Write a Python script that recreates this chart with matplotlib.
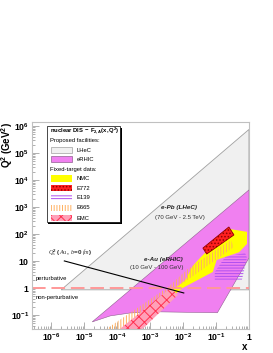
import numpy as np
import matplotlib
matplotlib.use('Agg')
import matplotlib.pyplot as plt
from matplotlib.patches import Polygon, Rectangle

plt.rcParams['font.family'] = 'Liberation Sans'
plt.rcParams['mathtext.fontset'] = 'custom'
plt.rcParams['mathtext.rm'] = 'Liberation Sans:bold'
plt.rcParams['mathtext.bf'] = 'Liberation Sans:bold'
plt.rcParams['mathtext.it'] = 'Liberation Serif:italic'
plt.rcParams['hatch.linewidth'] = 0.7

# regions in (x, Q^2)
lhec_x = [2e-6, 1.0, 1.0]
lhec_q2 = [0.85, 7.5e5, 0.85]

erhic_x = [1.75e-5, 1.0, 1.0, 0.11, 1.7e-3, 2.5e-4, 6.2e-5]
erhic_q2 = [0.055, 4300, 13, 0.12, 0.13, 0.118, 0.092]

nmc_x = [3.4e-3, 0.012, 0.0195, 0.035, 0.245, 0.87, 0.87, 0.5, 0.105, 0.08, 0.0098, 4.5e-3]
nmc_q2 = [0.6, 2.0, 6.5, 14, 155, 120, 43, 21, 11, 3.9, 1.0, 0.45]

e772_x = [0.040, 0.052, 0.35, 0.245]
e772_q2 = [30, 18, 92, 182]

e139_x = [0.092, 0.092, 0.19, 0.76, 0.87, 0.61]
e139_q2 = [2.0, 3.9, 14, 20, 13, 2.0]

e665_x = [4.7e-5, 3.6e-3, 0.0138, 0.28, 0.35, 8.5e-3, 1.6e-4]
e665_q2 = [0.03, 1.1, 5, 60, 33, 1.3, 0.03]

emc_x = [1.0e-4, 4.2e-3, 7.0e-3, 5.0e-4]
emc_q2 = [0.025, 1.0, 0.55, 0.025]

qs_x = [2.5e-6, 0.0105]
qs_q2 = [10, 0.65]

xticks = [1e-6, 1e-5, 1e-4, 1e-3, 1e-2, 1e-1, 1]
xlabels = ['$\\mathrm{10^{-6}}$', '$\\mathrm{10^{-5}}$', '$\\mathrm{10^{-4}}$', '$\\mathrm{10^{-3}}$',
           '$\\mathrm{10^{-2}}$', '$\\mathrm{10^{-1}}$', '$\\mathrm{1}$']
yticks = [1e-1, 1, 10, 1e2, 1e3, 1e4, 1e5, 1e6]
ylabels = ['$\\mathrm{10^{-1}}$', '$\\mathrm{1}$', '$\\mathrm{10}$', '$\\mathrm{10^{2}}$',
           '$\\mathrm{10^{3}}$', '$\\mathrm{10^{4}}$', '$\\mathrm{10^{5}}$', '$\\mathrm{10^{6}}$']

fig = plt.figure(figsize=(2.73, 3.53), dpi=100)
ax = fig.add_axes([0.117, 0.068, 0.795, 0.586])
ax.set_xscale('log')
ax.set_yscale('log')
ax.set_xlim(2.6e-7, 1)
ax.set_ylim(0.03, 1.4e6)

def region(xs, ys, **kw):
    ax.add_patch(Polygon(np.column_stack([xs, ys]), closed=True, **kw))

region(lhec_x, lhec_q2, facecolor='#f0f0f0', edgecolor='#a0a0a0', lw=0.6, zorder=1)
region(erhic_x, erhic_q2, facecolor='#f080f0', edgecolor='#906090', lw=0.4, zorder=2)
region(nmc_x, nmc_q2, facecolor='#ffff00', edgecolor='none', zorder=3)
region(e665_x, e665_q2, facecolor='none', edgecolor='#ffb060', hatch='||||||', lw=0, zorder=4)
region(emc_x, emc_q2, facecolor='#ffa0b8', edgecolor='#ff3050', hatch='xxx', lw=0, zorder=4)
region(e139_x, e139_q2, facecolor='none', edgecolor='#b050f0', hatch='------', lw=0, zorder=4)
region(e772_x, e772_q2, facecolor='#ff2020', edgecolor='#900000', hatch='.....', lw=0, zorder=5)
region(e772_x, e772_q2, facecolor='none', edgecolor='#900000', lw=0.6, zorder=5)

ax.axhline(1, color='#ff9898', lw=1.4, dashes=(7, 3), zorder=6)
ax.plot(qs_x, qs_q2, color='black', lw=0.8, zorder=7)

ax.set_xticks(xticks)
ax.set_xticklabels(xlabels)
ax.set_yticks(yticks)
ax.set_yticklabels(ylabels)
ax.tick_params(which='both', direction='in', colors='#909090', labelcolor='black',
               labelsize=6.2, top=False, right=False)
ax.tick_params(which='major', length=5, width=0.5)
ax.tick_params(axis='x', which='major', pad=2)
ax.tick_params(axis='y', which='major', pad=2)
ax.tick_params(which='minor', length=2.5, width=0.5)
for s in ax.spines.values():
    s.set_color('#c0c0c0')
    s.set_linewidth(0.8)
    s.set_zorder(10)

fig.text(0.025, 0.654, '$\\mathrm{Q^{2}\\ (GeV^{2})}$', rotation=90, ha='center', va='top', fontsize=7)
fig.text(0.897, 0.018, '$\\mathrm{x}$', ha='center', va='center', fontsize=7)

# annotations
ax.text(0.018, 0.246, 'perturbative', transform=ax.transAxes, fontsize=4.2, va='center', zorder=8)
ax.text(0.018, 0.150, 'non-perturbative', transform=ax.transAxes, fontsize=4.2, va='center', zorder=8)
ax.text(0.074, 0.367, '$Q^2_s\\ (Au,\\ b\\!=\\!0\\ fm)$', transform=ax.transAxes, fontsize=4.5,
        va='center', color='#303030', zorder=8)
ax.text(0.677, 0.589, 'e-Pb (LHeC)', transform=ax.transAxes, fontsize=4.5, fontweight='bold',
        style='italic', ha='center', va='center', color='#202020', zorder=8)
ax.text(0.682, 0.541, '(70 GeV - 2.5 TeV)', transform=ax.transAxes, fontsize=4.3,
        ha='center', va='center', color='#303030', zorder=8)
ax.text(0.604, 0.338, 'e-Au (eRHIC)', transform=ax.transAxes, fontsize=4.5, fontweight='bold',
        style='italic', ha='center', va='center', color='#202020', zorder=8)
ax.text(0.576, 0.295, '(10 GeV - 100 GeV)', transform=ax.transAxes, fontsize=4.3,
        ha='center', va='center', color='#303030', zorder=8)

# legend box with shadow
tr = ax.transAxes
ax.add_patch(Rectangle((0.076, 0.508), 0.337, 0.464, transform=tr, facecolor='black',
                       edgecolor='none', zorder=11, clip_on=False))
ax.add_patch(Rectangle((0.069, 0.517), 0.337, 0.464, transform=tr, facecolor='white',
                       edgecolor='black', lw=0.5, zorder=12, clip_on=False))
ax.text(0.085, 0.957, '$\\mathrm{nuclear\\ DIS\\ -\\ F_{2,A}(x,Q^{2})}$', transform=tr,
        fontsize=4.2, va='center', zorder=13)
ax.text(0.085, 0.913, 'Proposed facilities:', transform=tr, fontsize=4.2, va='center', zorder=13)
ax.text(0.085, 0.773, 'Fixed-target data:', transform=tr, fontsize=4.2, va='center', zorder=13)

leg_names = ['LHeC', 'eRHIC', 'NMC', 'E772', 'E139', 'E665', 'EMC']
leg_y = [0.865, 0.821, 0.729, 0.681, 0.638, 0.585, 0.536]
leg_style = [dict(facecolor='#f0f0f0', edgecolor='#a0a0a0', lw=0.5),
             dict(facecolor='#f080f0', edgecolor='#906090', lw=0.5),
             dict(facecolor='#ffff00', edgecolor='none'),
             dict(facecolor='#ff2020', edgecolor='#900000', hatch='.....', lw=0),
             dict(facecolor='white', edgecolor='#b050f0', hatch='------', lw=0),
             dict(facecolor='white', edgecolor='#ffb060', hatch='||||||', lw=0),
             dict(facecolor='#ffa0b8', edgecolor='#ff3050', hatch='xxx', lw=0)]
for name, yy, st in zip(leg_names, leg_y, leg_style):
    ax.add_patch(Rectangle((0.088, yy - 0.016), 0.096, 0.032, transform=tr, zorder=13,
                           clip_on=False, **st))
    ax.text(0.205, yy, name, transform=tr, fontsize=4.2, va='center', zorder=13)

fig.savefig('out.png', dpi=100)
